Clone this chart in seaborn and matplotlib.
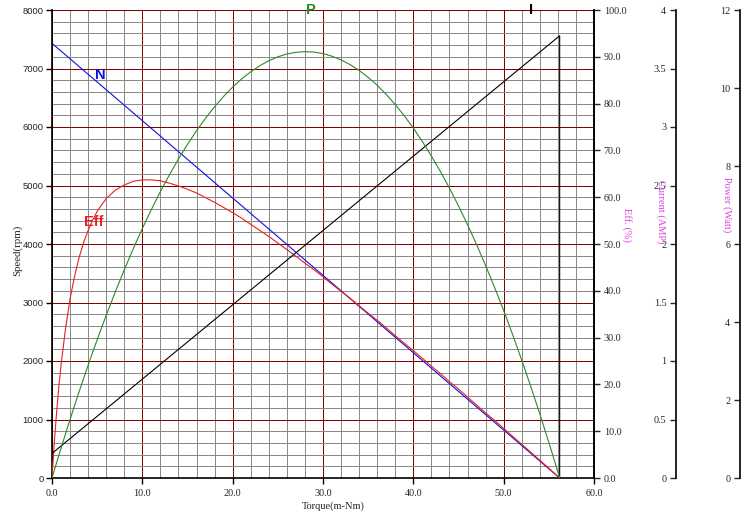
import matplotlib
matplotlib.use("Agg")
import matplotlib.pyplot as plt
import seaborn as sns
import pandas as pd
from matplotlib.ticker import FixedLocator, FormatStrFormatter

# ---- data ----
torque = [0, 0.25, 0.5, 0.75, 1, 1.5, 2, 2.5, 3, 3.5, 4, 4.5, 5,
          6, 7, 8, 9, 10, 11, 12, 13, 14, 15, 16, 17, 18, 19, 20, 21, 22, 23, 24, 25,
          26, 27, 28, 29, 30, 31, 32, 33, 34, 35, 36, 37, 38, 39, 40, 41, 42, 43, 44,
          45, 46, 47, 48, 49, 50, 51, 52, 53, 54, 55, 55.5, 56, 56.2]
speed = [7430, 7397, 7364, 7331, 7298, 7232, 7166, 7100, 7033, 6967, 6901, 6835, 6769,
         6637, 6505, 6372, 6240, 6108, 5976, 5844, 5711, 5579, 5447, 5315, 5183, 5050,
         4918, 4786, 4654, 4521, 4389, 4257, 4125, 3993, 3860, 3728, 3596, 3464, 3332,
         3199, 3067, 2935, 2803, 2671, 2538, 2406, 2274, 2142, 2010, 1877, 1745, 1613,
         1481, 1348, 1216, 1084, 952, 820, 688, 555, 423, 291, 159, 93, 26, 0]
efficiency = [0, 7.5, 13.8, 19.4, 24.1, 32.0, 38.3, 43.1, 47.1, 50.3, 52.9, 55.1, 57.0,
              59.7, 61.5, 62.6, 63.4, 63.7, 63.7, 63.5, 63.0, 62.4, 61.7, 60.9, 59.9,
              58.9, 57.8, 56.7, 55.5, 54.2, 52.9, 51.6, 50.2, 48.8, 47.4, 45.9, 44.5,
              43.0, 41.4, 39.9, 38.4, 36.8, 35.2, 33.7, 32.1, 30.4, 28.8, 27.2, 25.6,
              23.9, 22.3, 20.6, 19.0, 17.3, 15.6, 13.9, 12.3, 10.6, 8.9, 7.2, 5.5, 3.8,
              2.1, 1.2, 0.3, 0]
power = [0, 0.194, 0.386, 0.576, 0.764, 1.136, 1.501, 1.859, 2.210, 2.554, 2.891, 3.221,
         3.544, 4.170, 4.768, 5.338, 5.881, 6.396, 6.884, 7.344, 7.775, 8.179, 8.556,
         8.905, 9.226, 9.519, 9.785, 10.024, 10.234, 10.416, 10.571, 10.699, 10.799,
         10.872, 10.915, 10.931, 10.921, 10.883, 10.815, 10.720, 10.600, 10.450, 10.273,
         10.069, 9.835, 9.574, 9.287, 8.972, 8.628, 8.256, 7.858, 7.432, 6.978, 6.494,
         5.986, 5.449, 4.884, 4.294, 3.672, 3.022, 2.348, 1.646, 0.914, 0.538, 0.155, 0]
current_torque = [0, 56.2, 56.2]
current = [0.21, 3.78, 0]

x_ticks = [0, 10, 20, 30, 40, 50, 60]
speed_ticks = [0, 1000, 2000, 3000, 4000, 5000, 6000, 7000, 8000]
eff_ticks = [0, 10, 20, 30, 40, 50, 60, 70, 80, 90, 100]
current_ticks = [0, 0.5, 1, 1.5, 2, 2.5, 3, 3.5, 4]
current_labels = ["0", "0.5", "1", "1.5", "2", "2.5", "3", "3.5", "4"]
power_ticks = [0, 2, 4, 6, 8, 10, 12]

df = pd.DataFrame({"torque": torque, "speed": speed, "eff": efficiency, "power": power})
dfi = pd.DataFrame({"torque": current_torque, "current": current})

sns.set_style("white")
plt.rcParams["font.family"] = ["Liberation Serif", "DejaVu Serif"]

DARKRED = "#800000"
GRAY = "#8a8a8a"
MAG = "#e040e0"
LW = 0.8

fig = plt.figure(figsize=(7.53, 5.16), dpi=100)
ax = fig.add_axes([52 / 753, 38 / 516, 542 / 753, 468 / 516])
ax.set_xlim(0, 60)
ax.set_ylim(0, 8000)
ax.set_xticks(x_ticks)
ax.set_yticks(speed_ticks)
x_minor = [v for v in range(2, 60, 2) if v % 10 != 0]
y_minor = [v for v in range(200, 8000, 200) if v % 1000 != 0]
ax.xaxis.set_minor_locator(FixedLocator(x_minor))
ax.yaxis.set_minor_locator(FixedLocator(y_minor))
ax.xaxis.set_major_formatter(FormatStrFormatter("%.1f"))
ax.grid(which="minor", color=GRAY, lw=0.72, antialiased=False, snap=True)
ax.grid(which="major", color=DARKRED, lw=0.72, antialiased=False, snap=True)
ax.set_axisbelow(True)
ax.tick_params(which="minor", length=0)
ax.tick_params(axis="x", which="major", length=4, width=1, direction="out",
               color="black", labelsize=7.3, bottom=True, pad=4)
ax.tick_params(axis="y", which="major", length=4, width=1, direction="out",
               color="black", labelsize=6.8, left=True, pad=2)
for lab in ax.get_yticklabels():
    lab.set_fontfamily("Liberation Sans")
for s in ["left", "bottom", "right"]:
    ax.spines[s].set_color("black")
    ax.spines[s].set_linewidth(1.2)
ax.spines["top"].set_visible(False)

sns.lineplot(data=df, x="torque", y="speed", ax=ax, color="#1010e0", lw=LW,
             sort=False, estimator=None)
ax.set_xlabel("")
ax.set_ylabel("")

# Efficiency axis (right spine of main plot)
ax_e = ax.twinx()
ax_e.set_ylim(0, 100)
ax_e.set_yticks(eff_ticks)
ax_e.yaxis.set_major_formatter(FormatStrFormatter("%.1f"))
ax_e.tick_params(axis="y", length=4, width=1, direction="out", labelsize=7.3, pad=3)
for s in ["left", "top", "bottom"]:
    ax_e.spines[s].set_visible(False)
ax_e.spines["right"].set_color("black")
ax_e.spines["right"].set_linewidth(1.2)
sns.lineplot(data=df, x="torque", y="eff", ax=ax_e, color="#e82020", lw=LW,
             sort=False, estimator=None)
ax_e.set_ylabel("")
ax_e.set_xlabel("")

# Current axis
ax_c = ax.twinx()
ax_c.set_ylim(0, 4)
ax_c.set_yticks(current_ticks)
ax_c.set_yticklabels(current_labels)
for s in ["right", "top", "bottom"]:
    ax_c.spines[s].set_visible(False)
ax_c.spines["left"].set_visible(True)
ax_c.spines["left"].set_position(("axes", (676 - 52) / 542))
ax_c.spines["left"].set_color("black")
ax_c.spines["left"].set_linewidth(1.2)
ax_c.yaxis.set_ticks_position("left")
ax_c.yaxis.set_label_position("left")
ax_c.tick_params(axis="y", length=4, width=1, direction="out", labelsize=7.3, pad=3)
sns.lineplot(data=dfi, x="torque", y="current", ax=ax_c, color="black", lw=LW,
             sort=False, estimator=None)
ax_c.set_ylabel("")
ax_c.set_xlabel("")

# Power axis
ax_p = ax.twinx()
ax_p.set_ylim(0, 12)
ax_p.set_yticks(power_ticks)
for s in ["right", "top", "bottom"]:
    ax_p.spines[s].set_visible(False)
ax_p.spines["left"].set_visible(True)
ax_p.spines["left"].set_position(("axes", (740 - 52) / 542))
ax_p.spines["left"].set_color("black")
ax_p.spines["left"].set_linewidth(1.2)
ax_p.yaxis.set_ticks_position("left")
ax_p.yaxis.set_label_position("left")
ax_p.tick_params(axis="y", length=4, width=1, direction="out", labelsize=7.3, pad=3)
sns.lineplot(data=df, x="torque", y="power", ax=ax_p, color="#2a8a2a", lw=LW,
             sort=False, estimator=None)
ax_p.set_ylabel("")
ax_p.set_xlabel("")

# series labels
bold = dict(fontfamily="Liberation Sans", fontweight="bold", fontsize=10.5,
            ha="center", va="center")
ax.text(5.4, 6890, "N", color="#1010e0", **bold)
ax.text(4.6, 4370, "Eff", color="#e82020", **bold)
ax.text(28.7, 8000, "P", color="#2a8a2a", **bold)
ax.text(53.0, 8000, "I", color="black", **bold)

# axis titles
fig.text(17 / 753, 1 - 250 / 516, "Speed(rpm)", rotation=90, ha="center", va="center",
         fontsize=7.8)
fig.text(333 / 753, 1 - 506 / 516, "Torque(m-Nm)", ha="center", va="center", fontsize=7.5)
fig.text(627 / 753, 1 - 225 / 516, "Eff. (%)", rotation=-90, ha="center", va="center",
         fontsize=7.5, color=MAG)
fig.text(661 / 753, 1 - 212 / 516, "Current (AMP)", rotation=-90, ha="center",
         va="center", fontsize=7.5, color=MAG)
fig.text(727 / 753, 1 - 205 / 516, "Power (Watt)", rotation=-90, ha="center",
         va="center", fontsize=7.5, color=MAG)

fig.savefig("out.png", dpi=100, facecolor="white")
